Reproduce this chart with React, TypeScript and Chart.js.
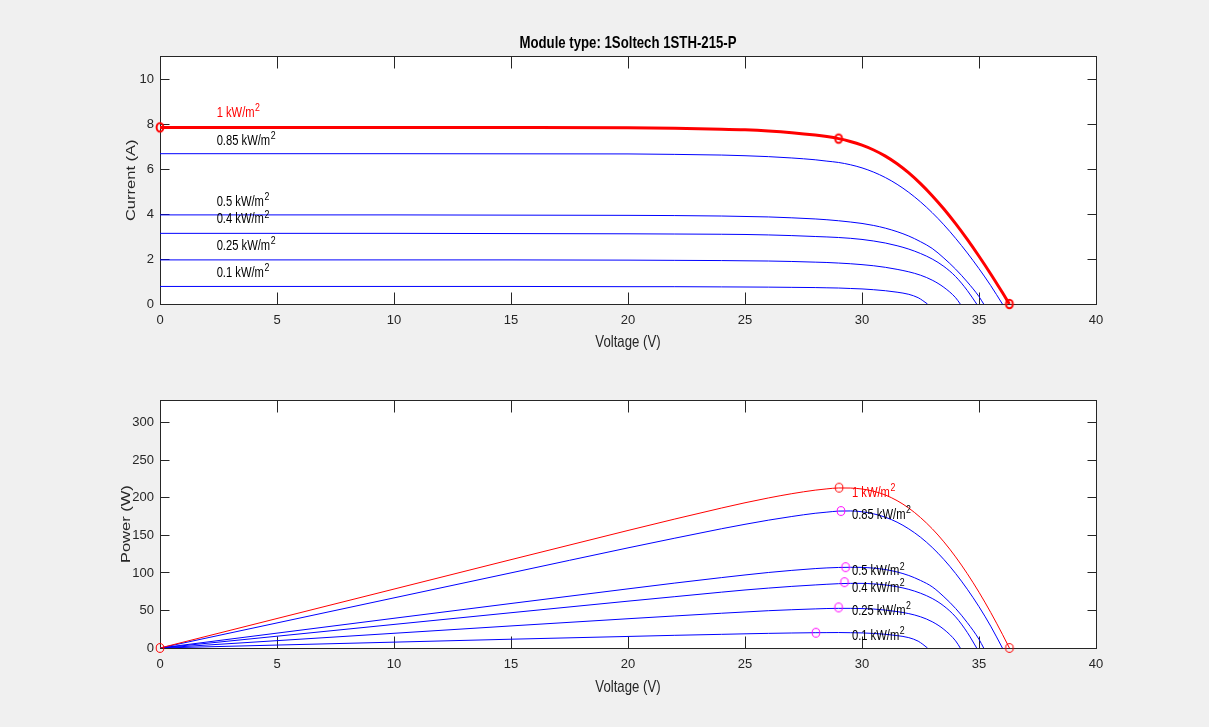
import React, { useEffect, useRef } from "react";
import { Chart, registerables } from "chart.js";

Chart.register(...registerables);

const FONT = '"Liberation Sans", Arial, Helvetica, sans-serif';
const TEXT_DARK = "#262626";
const SQUEEZE = 0.8;

const TITLE = "Module type: 1Soltech 1STH-215-P";
const X_TITLE = "Voltage (V)";
const IV_Y_TITLE = "Current (A)";
const PV_Y_TITLE = "Power (W)";

const IRRADIANCE_LABELS = ["1 kW/m", "0.85 kW/m", "0.5 kW/m", "0.4 kW/m", "0.25 kW/m", "0.1 kW/m"];
const CURVE_COLORS = ["#ff0000", "#0000ff", "#0000ff", "#0000ff", "#0000ff", "#0000ff"];
const LABEL_COLORS = ["#ff0000", "#000000", "#000000", "#000000", "#000000", "#000000"];

// 1 kW/m2
const V_1000 = [0, 5, 10, 15, 20, 22, 24, 25, 26, 27, 28, 28.5, 29, 29.5, 30, 30.5, 31, 31.5, 32, 32.5, 33, 33.5, 34, 34.5, 35, 35.5, 36, 36.3];
const I_1000 = [7.85, 7.85, 7.85, 7.845, 7.83, 7.81, 7.77, 7.74, 7.69, 7.615, 7.51, 7.44, 7.35, 7.224, 7.059, 6.845, 6.573, 6.233, 5.825, 5.349, 4.814, 4.221, 3.57, 2.87, 2.122, 1.335, 0.509, 0];
const P_1000 = [0, 39.3, 78.5, 117.7, 156.6, 171.8, 186.5, 193.5, 199.9, 205.6, 210.3, 212.0, 213.2, 213.1, 211.8, 208.8, 203.8, 196.3, 186.4, 173.8, 158.9, 141.4, 121.4, 99.0, 74.3, 47.4, 18.3, 0];
// 0.85 kW/m2
const V_850 = [0, 5, 10, 15, 20, 22, 24, 25, 26, 27, 28, 28.5, 29, 29.5, 30, 30.5, 31, 31.5, 32, 32.5, 33, 33.5, 34, 34.5, 35, 35.5, 36];
const I_850 = [6.68, 6.68, 6.68, 6.675, 6.67, 6.65, 6.62, 6.59, 6.55, 6.49, 6.41, 6.35, 6.29, 6.19, 6.05, 5.86, 5.62, 5.32, 4.96, 4.54, 4.06, 3.52, 2.92, 2.27, 1.57, 0.82, 0];
const P_850 = [0, 33.4, 66.8, 100.1, 133.4, 146.3, 158.9, 164.8, 170.3, 175.2, 179.5, 181.0, 182.4, 182.6, 181.5, 178.7, 174.2, 167.6, 158.7, 147.6, 134.0, 117.9, 99.3, 78.3, 55.0, 29.1, 0];
// 0.5 kW/m2
const V_500 = [0, 5, 10, 15, 20, 22, 24, 25, 26, 27, 28, 28.5, 29, 29.5, 30, 30.5, 31, 31.5, 32, 32.5, 33, 33.5, 34, 34.5, 35, 35.2];
const I_500 = [3.96, 3.96, 3.96, 3.95, 3.94, 3.93, 3.91, 3.89, 3.87, 3.83, 3.78, 3.745, 3.7, 3.645, 3.58, 3.49, 3.37, 3.215, 3.02, 2.77, 2.47, 2.04, 1.55, 0.98, 0.33, 0];
const P_500 = [0, 19.8, 39.6, 59.3, 78.8, 86.5, 93.8, 97.3, 100.6, 103.4, 105.8, 106.7, 107.3, 107.5, 107.4, 106.4, 104.5, 101.3, 96.6, 90.0, 81.5, 68.3, 52.7, 33.8, 11.6, 0];
// 0.4 kW/m2
const V_400 = [0, 5, 10, 15, 20, 22, 24, 25, 26, 27, 28, 28.5, 29, 29.5, 30, 30.5, 31, 31.5, 32, 32.5, 33, 33.5, 34, 34.5, 34.9];
const I_400 = [3.14, 3.14, 3.14, 3.13, 3.12, 3.11, 3.1, 3.09, 3.07, 3.04, 3.0, 2.98, 2.955, 2.92, 2.87, 2.8, 2.71, 2.59, 2.44, 2.245, 2.0, 1.67, 1.22, 0.6, 0];
const P_400 = [0, 15.7, 31.4, 47, 62.4, 68.4, 74.4, 77.3, 79.8, 82.1, 84, 84.9, 85.7, 86.1, 86.1, 85.4, 84.0, 81.6, 78.1, 73.0, 66, 55.9, 41.5, 20.7, 0];
// 0.25 kW/m2
const V_250 = [0, 5, 10, 15, 20, 22, 24, 25, 26, 27, 28, 28.5, 29, 29.5, 30, 30.5, 31, 31.5, 32, 32.5, 33, 33.5, 34, 34.2];
const I_250 = [1.96, 1.96, 1.96, 1.96, 1.95, 1.94, 1.93, 1.92, 1.91, 1.89, 1.86, 1.845, 1.82, 1.79, 1.75, 1.7, 1.63, 1.54, 1.43, 1.28, 1.06, 0.74, 0.28, 0];
const P_250 = [0, 9.8, 19.6, 29.4, 39, 42.7, 46.3, 48, 49.7, 51, 52.1, 52.6, 52.8, 52.8, 52.5, 51.9, 50.5, 48.5, 45.8, 41.6, 35.0, 24.8, 9.5, 0];
// 0.1 kW/m2
const V_100 = [0, 5, 10, 15, 20, 22, 24, 25, 26, 27, 28, 28.5, 29, 29.5, 30, 30.5, 31, 31.5, 32, 32.4, 32.6, 32.8];
const I_100 = [0.78, 0.78, 0.78, 0.78, 0.77, 0.77, 0.76, 0.755, 0.75, 0.74, 0.73, 0.72, 0.71, 0.69, 0.67, 0.635, 0.59, 0.525, 0.43, 0.28, 0.15, 0];
const P_100 = [0, 3.9, 7.8, 11.7, 15.4, 16.9, 18.2, 18.9, 19.5, 20, 20.4, 20.5, 20.6, 20.4, 20.1, 19.4, 18.3, 16.5, 13.8, 9.1, 4.9, 0];

const CURVE_V = [V_1000, V_850, V_500, V_400, V_250, V_100];
const CURVE_I = [I_1000, I_850, I_500, I_400, I_250, I_100];
const CURVE_P = [P_1000, P_850, P_500, P_400, P_250, P_100];

// markers
const IV_MARK_V = [0, 29.0, 36.3];
const IV_MARK_I = [7.85, 7.35, 0];
const PV_MARK_V = [0, 29.02, 36.3];
const PV_MARK_P = [0, 213.6, 0];
const MPP_V = [29.1, 29.3, 29.25, 29.0, 28.03];
const MPP_P = [182.5, 107.7, 87.7, 54.1, 20.4];

// label anchors (data units)
const IV_LABEL_V = 2.42;
const IV_LABEL_I = [8.48, 7.25, 4.54, 3.75, 2.57, 1.39];
const PV_LABEL_V = 29.57;
const PV_LABEL_P = [206.3, 176.8, 101.9, 79.8, 48.8, 16.2];

const X_MIN = 0;
const X_MAX = 40;
const X_STEP = 5;
const IV_Y_MAX = 11;
const IV_Y_STEP = 2;
const PV_Y_MAX = 330;
const PV_Y_STEP = 50;

type FrameCfg = {
  title?: string;
  titleY?: number;
  xTitle: string;
  xTitleY: number;
  yTitle: string;
  yTitleX: number;
  labelV: number;
  labelY: number[];
};

function squeezedText(ctx: CanvasRenderingContext2D, txt: string, x: number, y: number) {
  ctx.save();
  ctx.translate(x, y);
  ctx.scale(SQUEEZE, 1);
  ctx.fillText(txt, 0, 0);
  ctx.restore();
}

function framePlugin(cfg: FrameCfg) {
  return {
    id: "matlabFrame",
    beforeDatasetsDraw(chart: any) {
      const { ctx, chartArea: a } = chart;
      const xs = chart.scales.x;
      const ys = chart.scales.y;
      ctx.save();
      ctx.fillStyle = "#ffffff";
      ctx.fillRect(a.left, a.top, a.right - a.left, a.bottom - a.top);
      ctx.strokeStyle = TEXT_DARK;
      ctx.lineWidth = 1;
      const L = Math.floor(a.left) + 0.5;
      const R = Math.floor(a.right) + 0.5;
      const T = Math.floor(a.top) + 0.5;
      const B = Math.floor(a.bottom) + 0.5;
      ctx.strokeRect(L, T, R - L, B - T);
      ctx.beginPath();
      xs.ticks.forEach((t: any) => {
        const px = Math.floor(xs.getPixelForValue(t.value)) + 0.5;
        ctx.moveTo(px, B);
        ctx.lineTo(px, B - 12);
        ctx.moveTo(px, T);
        ctx.lineTo(px, T + 12);
      });
      ys.ticks.forEach((t: any) => {
        const py = Math.floor(ys.getPixelForValue(t.value)) + 0.5;
        ctx.moveTo(L, py);
        ctx.lineTo(L + 9, py);
        ctx.moveTo(R, py);
        ctx.lineTo(R - 9, py);
      });
      ctx.stroke();
      ctx.restore();
    },
    afterDatasetsDraw(chart: any) {
      const { ctx } = chart;
      const xs = chart.scales.x;
      const ys = chart.scales.y;
      ctx.save();
      ctx.textAlign = "left";
      ctx.textBaseline = "middle";
      IRRADIANCE_LABELS.forEach((txt, i) => {
        const x = xs.getPixelForValue(cfg.labelV);
        const y = ys.getPixelForValue(cfg.labelY[i]);
        ctx.fillStyle = LABEL_COLORS[i];
        ctx.font = `14px ${FONT}`;
        squeezedText(ctx, txt, x, y);
        const w = ctx.measureText(txt).width * SQUEEZE;
        ctx.font = `11px ${FONT}`;
        squeezedText(ctx, "2", x + w + 0.5, y - 5);
      });
      ctx.restore();
    },
    afterDraw(chart: any) {
      const { ctx, chartArea: a } = chart;
      const cx = (a.left + a.right) / 2;
      const cy = (a.top + a.bottom) / 2;
      ctx.save();
      ctx.textAlign = "center";
      ctx.textBaseline = "middle";
      if (cfg.title) {
        ctx.fillStyle = "#000000";
        ctx.font = `bold 16.5px ${FONT}`;
        squeezedText(ctx, cfg.title, cx, cfg.titleY as number);
      }
      ctx.fillStyle = TEXT_DARK;
      ctx.font = `16.5px ${FONT}`;
      squeezedText(ctx, cfg.xTitle, cx, cfg.xTitleY);
      ctx.translate(cfg.yTitleX, cy);
      ctx.rotate(-Math.PI / 2);
      ctx.scale(1, SQUEEZE);
      ctx.fillText(cfg.yTitle, 0, 0);
      ctx.restore();
    },
  };
}

function ellipseMarker(color: string, lw: number, rx: number, ry: number) {
  const c = document.createElement("canvas");
  c.width = 14;
  c.height = 16;
  const g = c.getContext("2d") as CanvasRenderingContext2D;
  g.strokeStyle = color;
  g.lineWidth = lw;
  g.beginPath();
  g.ellipse(7, 8, rx, ry, 0, 0, Math.PI * 2);
  g.stroke();
  return c;
}

function lineDataset(vs: number[], ys: number[], color: string, width: number) {
  return {
    data: vs.map((v, i) => ({ x: v, y: ys[i] })),
    showLine: true,
    borderColor: color,
    backgroundColor: color,
    borderWidth: width,
    pointRadius: 0,
    pointHoverRadius: 0,
    cubicInterpolationMode: "monotone",
    fill: false,
  };
}

function markerDataset(vs: number[], ys: number[], style: HTMLCanvasElement, color: string) {
  return {
    data: vs.map((v, i) => ({ x: v, y: ys[i] })),
    showLine: false,
    pointStyle: style,
    pointRadius: 5,
    pointHoverRadius: 5,
    borderColor: color,
    backgroundColor: "rgba(0,0,0,0)",
    clip: false,
  };
}

function makeOptions(yMax: number, yStep: number, padTop: number, xAxisH: number) {
  const tickFont = { family: FONT, size: 13 };
  return {
    responsive: false,
    animation: false,
    devicePixelRatio: 1,
    events: [],
    layout: { padding: { top: padTop, right: 113, left: 0, bottom: 0 } },
    plugins: {
      legend: { display: false },
      tooltip: { enabled: false },
      title: { display: false },
    },
    scales: {
      x: {
        type: "linear",
        position: "bottom",
        min: X_MIN,
        max: X_MAX,
        grid: { display: false, drawTicks: false },
        border: { display: false },
        ticks: { stepSize: X_STEP, padding: 9, color: TEXT_DARK, font: tickFont, autoSkip: false, maxRotation: 0, includeBounds: false },
        afterFit: (s: any) => {
          s.height = xAxisH;
        },
      },
      y: {
        type: "linear",
        position: "left",
        min: 0,
        max: yMax,
        grid: { display: false, drawTicks: false },
        border: { display: false },
        ticks: { stepSize: yStep, padding: 6, color: TEXT_DARK, font: tickFont, autoSkip: false, includeBounds: false },
        afterFit: (s: any) => {
          s.width = 160;
        },
      },
    },
  };
}

export default function App() {
  const ivRef = useRef<HTMLCanvasElement | null>(null);
  const pvRef = useRef<HTMLCanvasElement | null>(null);

  useEffect(() => {
    if (!ivRef.current || !pvRef.current) return;

    const thickRed = ellipseMarker("#ff0000", 2, 3.4, 4.3);
    const thinRed = ellipseMarker("#ff0000", 1, 3.8, 4.4);
    const thinMagenta = ellipseMarker("#ff00ff", 1, 3.8, 4.4);

    const ivDatasets: any[] = [markerDataset(IV_MARK_V, IV_MARK_I, thickRed, "#ff0000")];
    CURVE_V.forEach((vs, k) => {
      ivDatasets.push(lineDataset(vs, CURVE_I[k], CURVE_COLORS[k], k === 0 ? 3 : 1));
    });

    const pvDatasets: any[] = [
      markerDataset(PV_MARK_V, PV_MARK_P, thinRed, "#ff0000"),
      markerDataset(MPP_V, MPP_P, thinMagenta, "#ff00ff"),
    ];
    CURVE_V.forEach((vs, k) => {
      pvDatasets.push(lineDataset(vs, CURVE_P[k], CURVE_COLORS[k], 1));
    });

    const ivChart = new Chart(ivRef.current, {
      type: "scatter",
      data: { datasets: ivDatasets },
      options: makeOptions(IV_Y_MAX, IV_Y_STEP, 56.5, 56) as any,
      plugins: [
        framePlugin({
          title: TITLE,
          titleY: 43,
          xTitle: X_TITLE,
          xTitleY: 342,
          yTitle: IV_Y_TITLE,
          yTitleX: 131,
          labelV: IV_LABEL_V,
          labelY: IV_LABEL_I,
        }),
      ],
    } as any);

    const pvChart = new Chart(pvRef.current, {
      type: "scatter",
      data: { datasets: pvDatasets },
      options: makeOptions(PV_Y_MAX, PV_Y_STEP, 40.3, 79) as any,
      plugins: [
        framePlugin({
          xTitle: X_TITLE,
          xTitleY: 327,
          yTitle: PV_Y_TITLE,
          yTitleX: 126,
          labelV: PV_LABEL_V,
          labelY: PV_LABEL_P,
        }),
      ],
    } as any);

    return () => {
      ivChart.destroy();
      pvChart.destroy();
    };
  }, []);

  return (
    <div
      style={{
        position: "fixed",
        left: 0,
        top: 0,
        width: 1209,
        height: 727,
        background: "#f0f0f0",
        overflow: "hidden",
      }}
    >
      <canvas ref={ivRef} width={1209} height={360} style={{ position: "absolute", left: 0, top: 0 }} />
      <canvas ref={pvRef} width={1209} height={367} style={{ position: "absolute", left: 0, top: 360 }} />
    </div>
  );
}
